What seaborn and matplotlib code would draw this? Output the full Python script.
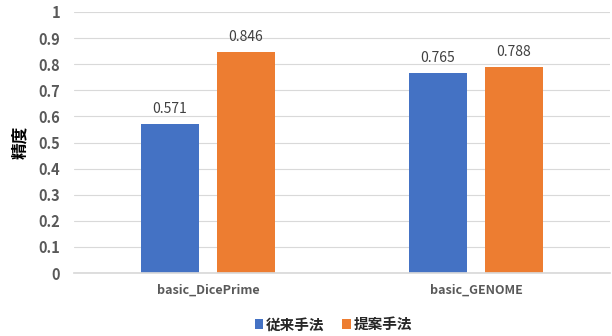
import matplotlib
matplotlib.use("Agg")
import matplotlib.pyplot as plt
import seaborn as sns
import pandas as pd
from matplotlib.patches import Patch

categories = ["basic_DicePrime", "basic_GENOME"]
series_names = ["従来手法", "提案手法"]
conventional = [0.571, 0.765]
proposed = [0.846, 0.788]
yticks = [0, 0.1, 0.2, 0.3, 0.4, 0.5, 0.6, 0.7, 0.8, 0.9, 1]
ytick_labels = ["0", "0.1", "0.2", "0.3", "0.4", "0.5", "0.6", "0.7", "0.8", "0.9", "1"]
colors = ["#4472C4", "#ED7D31"]

df = pd.DataFrame({
    "cat": categories * 2,
    "method": [series_names[0]] * 2 + [series_names[1]] * 2,
    "val": conventional + proposed,
})

sns.set_theme(style="white")
plt.rcParams["font.family"] = ["Noto Sans CJK JP", "DejaVu Sans"]

fig = plt.figure(figsize=(6.12, 3.36), dpi=100)
ax = fig.add_axes([74 / 612, 1 - 273 / 336, (610 - 74) / 612, (273 - 12) / 336])

sns.barplot(data=df, x="cat", y="val", hue="method", order=categories,
            hue_order=series_names, palette=colors, width=0.567, gap=0.225,
            ax=ax, legend=False, saturation=1, edgecolor="none")

for cont in ax.containers:
    ax.bar_label(cont, labels=[f"{v:.3f}" for v in cont.datavalues], padding=6,
                 fontsize=10, color="#404040")

ax.set_ylim(0, 1)
ax.set_xlim(-0.5, 1.5)
ax.set_yticks(yticks)
ax.set_yticklabels(ytick_labels, fontsize=10.5, color="#595959", fontweight="bold")
ax.yaxis.grid(True, color="#D9D9D9", linewidth=0.8)
ax.set_axisbelow(True)
for s in ["top", "right", "left"]:
    ax.spines[s].set_visible(False)
ax.spines["bottom"].set_color("#D9D9D9")
ax.tick_params(axis="y", length=0, pad=10)
ax.tick_params(axis="x", length=0, pad=8)
for lbl in ax.get_xticklabels():
    lbl.set_fontsize(9)
    lbl.set_fontweight("bold")
    lbl.set_color("#595959")
ax.set_xlabel("")
ax.set_ylabel("精度", fontsize=12, fontweight="bold", color="#000000")
ax.yaxis.set_label_coords(-0.084, 0.5)

handles = [Patch(facecolor=c, edgecolor="none") for c in colors]
fig.legend(handles, series_names, loc="center", bbox_to_anchor=(0.545, 0.035),
           ncol=2, frameon=False, handlelength=0.6, handleheight=0.6,
           handletextpad=0.2, columnspacing=1.2,
           prop={"weight": "bold", "size": 10.5, "family": ["Noto Sans CJK JP", "DejaVu Sans"]})

fig.savefig("out.png", dpi=100)
